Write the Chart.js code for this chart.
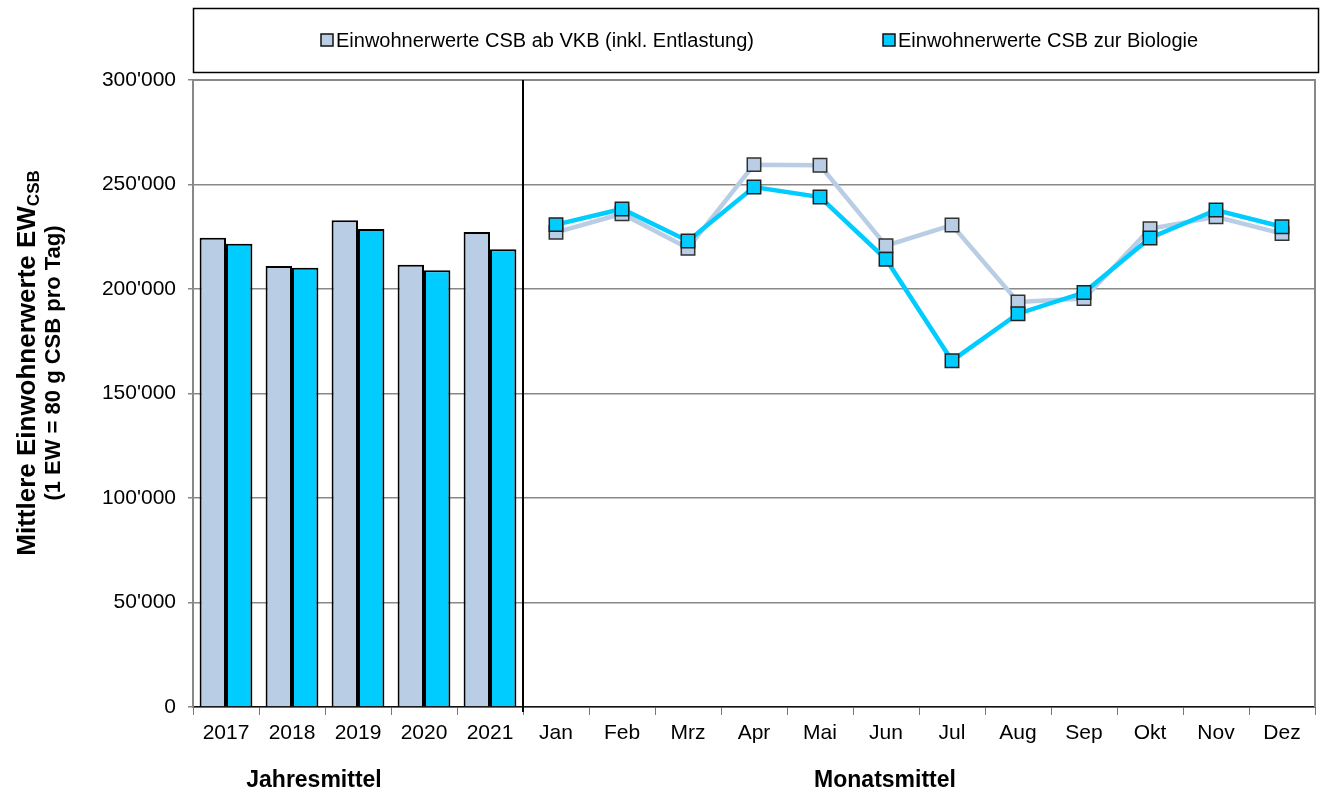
<!DOCTYPE html>
<html>
<head>
<meta charset="utf-8">
<script src="https://cdn.jsdelivr.net/npm/chart.js@4/dist/chart.umd.min.js"></script>
<style>
  html, body { margin: 0; padding: 0; background: #fff; overflow: hidden; }
  #wrap { width: 1321px; height: 793px; position: relative; }
  canvas { display: block; }
</style>
</head>
<body>
<div id="wrap"><canvas id="c"></canvas></div>
<script>
// categories: 5 annual means, then 12 monthly means
var years = ['2017', '2018', '2019', '2020', '2021'];
var months = ['Jan', 'Feb', 'Mrz', 'Apr', 'Mai', 'Jun', 'Jul', 'Aug', 'Sep', 'Okt', 'Nov', 'Dez'];

// Einwohnerwerte CSB ab VKB (inkl. Entlastung)
var yearsVKB = [224500, 211000, 232900, 211600, 227300];
var monthsVKB = [227100, 236000, 219500, 259500, 259200, 220700, 230600, 193800, 195400, 228800, 234500, 226500];

// Einwohnerwerte CSB zur Biologie
var yearsBio = [221700, 210200, 228700, 209000, 219000];
var monthsBio = [230800, 238300, 223000, 248800, 244000, 214200, 165700, 188200, 198300, 224400, 237800, 229800];

var yTicks = [0, 50000, 100000, 150000, 200000, 250000, 300000];

var labelVKB = 'Einwohnerwerte CSB ab VKB (inkl. Entlastung)';
var labelBio = 'Einwohnerwerte CSB zur Biologie';

var grayCol = '#b9cde5';
var cyanCol = '#00ccff';
var font = '"Liberation Sans", Arial, sans-serif';

var noYears = years.map(function () { return null; });
var noMonths = months.map(function () { return null; });

function fmt(v) {
    return String(v).replace(/\B(?=(\d{3})+(?!\d))/g, "'");
}

// legend box, separator line, axis titles
var decor = {
    id: 'decor',
    afterDraw: function (chart) {
        var ctx = chart.ctx;
        var a = chart.chartArea;
        var xs = chart.scales.x;
        ctx.save();

        // plot frame top / right
        ctx.strokeStyle = '#888';
        ctx.lineWidth = 2;
        ctx.beginPath();
        ctx.moveTo(a.left, a.top);
        ctx.lineTo(a.right, a.top);
        ctx.lineTo(a.right, a.bottom);
        ctx.stroke();

        // separator between Jahresmittel and Monatsmittel
        var sx = (xs.getPixelForValue(years.length - 1) + xs.getPixelForValue(years.length)) / 2;
        ctx.strokeStyle = '#000';
        ctx.lineWidth = 2;
        ctx.beginPath();
        ctx.moveTo(sx, a.top);
        ctx.lineTo(sx, a.bottom + 5);
        ctx.stroke();

        // legend
        ctx.lineWidth = 1.5;
        ctx.strokeStyle = '#000';
        ctx.strokeRect(a.left + 0.5, 8.5, a.right - a.left + 3, 64);
        var bars = chart.data.datasets.filter(function (d) { return d.type === 'bar'; });
        var items = [
            { x: 321, col: bars[0].backgroundColor, text: bars[0].label },
            { x: 883, col: bars[1].backgroundColor, text: bars[1].label }
        ];
        ctx.font = '20px ' + font;
        ctx.textBaseline = 'middle';
        ctx.textAlign = 'left';
        items.forEach(function (it) {
            ctx.fillStyle = it.col;
            ctx.fillRect(it.x, 34, 12, 12);
            ctx.strokeStyle = '#111';
            ctx.strokeRect(it.x, 34, 12, 12);
            ctx.fillStyle = '#000';
            ctx.fillText(it.text, it.x + 15, 41);
        });

        // section titles
        ctx.font = 'bold 23px ' + font;
        ctx.textAlign = 'center';
        ctx.fillText('Jahresmittel', 314, 781);
        ctx.fillText('Monatsmittel', 885, 781);

        // y title with subscript
        ctx.translate(28, 363);
        ctx.rotate(-Math.PI / 2);
        ctx.textAlign = 'left';
        ctx.font = 'bold 26px ' + font;
        var main = 'Mittlere Einwohnerwerte EW';
        var wMain = ctx.measureText(main).width;
        ctx.font = 'bold 17px ' + font;
        var wSub = ctx.measureText('CSB').width;
        var start = -(wMain + wSub) / 2;
        ctx.font = 'bold 26px ' + font;
        ctx.fillText(main, start, 0);
        ctx.font = 'bold 17px ' + font;
        ctx.fillText('CSB', start + wMain, 6);
        ctx.font = 'bold 22px ' + font;
        ctx.textAlign = 'center';
        ctx.fillText('(1 EW = 80 g CSB pro Tag)', 0, 26);

        ctx.restore();
    }
};

new Chart(document.getElementById('c'), {
    data: {
        labels: years.concat(months),
        datasets: [
            {
                type: 'bar',
                label: labelVKB,
                data: yearsVKB.concat(noMonths),
                backgroundColor: grayCol,
                borderColor: '#000',
                borderWidth: 2,
                order: 3
            },
            {
                type: 'bar',
                label: labelBio,
                data: yearsBio.concat(noMonths),
                backgroundColor: cyanCol,
                borderColor: '#000',
                borderWidth: 2,
                order: 4
            },
            {
                type: 'line',
                label: labelVKB,
                data: noYears.concat(monthsVKB),
                borderColor: grayCol,
                borderWidth: 4.5,
                backgroundColor: grayCol,
                pointStyle: 'rect',
                pointRadius: 9.5,
                pointHoverRadius: 9.5,
                pointBorderColor: '#333',
                pointBorderWidth: 1.5,
                tension: 0,
                order: 2
            },
            {
                type: 'line',
                label: labelBio,
                data: noYears.concat(monthsBio),
                borderColor: cyanCol,
                borderWidth: 4.5,
                backgroundColor: cyanCol,
                pointStyle: 'rect',
                pointRadius: 9.5,
                pointHoverRadius: 9.5,
                pointBorderColor: '#222',
                pointBorderWidth: 1.5,
                tension: 0,
                order: 1
            }
        ]
    },
    options: {
        responsive: true,
        maintainAspectRatio: false,
        animation: false,
        layout: { autoPadding: false, padding: { top: 80, right: 6, left: 0, bottom: 0 } },
        plugins: {
            legend: { display: false },
            tooltip: { enabled: false }
        },
        datasets: {
            bar: { categoryPercentage: 0.8, barPercentage: 1 }
        },
        scales: {
            x: {
                offset: true,
                afterFit: function (s) { s.height = 86; s.paddingLeft = 0; s.paddingRight = 0; },
                grid: { offset: true, drawOnChartArea: false, tickLength: 8, color: '#777', lineWidth: 1 },
                border: { color: '#111', width: 1.5 },
                ticks: { color: '#000', font: { family: font, size: 21 }, padding: 6, maxRotation: 0, autoSkip: false }
            },
            y: {
                min: 0,
                max: 300000,
                afterFit: function (s) { s.width = 193; },
                afterBuildTicks: function (s) { s.ticks = yTicks.map(function (v) { return { value: v }; }); },
                grid: { color: '#888', lineWidth: 1.5, tickLength: 5 },
                border: { color: '#888', width: 2 },
                ticks: {
                    color: '#000',
                    font: { family: font, size: 21 },
                    padding: 12,
                    callback: function (v) { return fmt(v); }
                }
            }
        }
    },
    plugins: [decor]
});
</script>
</body>
</html>
